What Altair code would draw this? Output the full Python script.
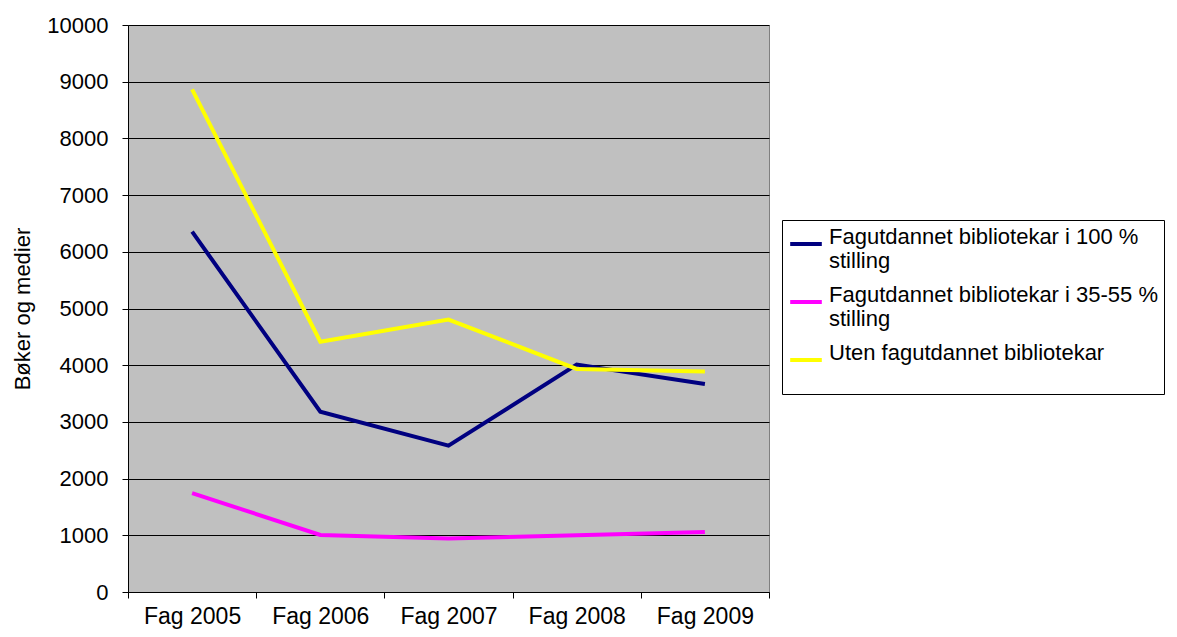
import altair as alt
import pandas as pd

categories = ["Fag 2005", "Fag 2006", "Fag 2007", "Fag 2008", "Fag 2009"]
series_names = [
    "Fagutdannet bibliotekar i 100 %|stilling",
    "Fagutdannet bibliotekar i 35-55 %|stilling",
    "Uten fagutdannet bibliotekar",
]
full_100 = [6355, 3180, 2580, 4010, 3670]
part_35_55 = [1745, 1005, 945, 1000, 1060]
uten = [8865, 4415, 4805, 3935, 3890]
colors = ["#000080", "#FF00FF", "#FFFF00"]

rows = []
for name, vals in zip(series_names, [full_100, part_35_55, uten]):
    for c, v in zip(categories, vals):
        rows.append({"kategori": c, "serie": name, "verdi": v})
df = pd.DataFrame(rows)

FONT = "Liberation Sans"

chart = (
    alt.Chart(df)
    .mark_line(strokeWidth=4)
    .encode(
        x=alt.X(
            "kategori:N",
            sort=categories,
            bandPosition=0.5,
            scale=alt.Scale(type="band", paddingInner=0, paddingOuter=0),
            axis=alt.Axis(
                title=None,
                labelAngle=0,
                tickBand="extent",
                tickSize=6,
                tickColor="black",
                domainColor="black",
                labelFontSize=23,
                labelFont=FONT,
                labelColor="black",
                labelPadding=7,
                grid=False,
            ),
        ),
        y=alt.Y(
            "verdi:Q",
            scale=alt.Scale(domain=[0, 10000], nice=False),
            axis=alt.Axis(
                title="Bøker og medier",
                values=list(range(0, 10001, 1000)),
                format="d",
                grid=True,
                gridColor="black",
                gridOpacity=1,
                gridWidth=1,
                tickSize=6,
                tickColor="black",
                domainColor="black",
                labelFontSize=22,
                labelFont=FONT,
                labelColor="black",
                labelPadding=14,
                titleFont=FONT,
                titleFontSize=22,
                titleFontWeight="normal",
                titleColor="black",
                titlePadding=12,
            ),
        ),
        color=alt.Color(
            "serie:N",
            scale=alt.Scale(domain=series_names, range=colors),
            legend=alt.Legend(
                title=None,
                orient="none",
                legendX=654,
                legendY=195,
                symbolType="stroke",
                symbolSize=1000,
                symbolStrokeWidth=4,
                labelExpr="split(indexof(datum.label, '|') < 0 ? datum.label + '| ' : datum.label, '|')",
                labelFont=FONT,
                labelFontSize=22,
                labelColor="black",
                labelLimit=500,
                labelOffset=5,
                labelBaseline="alphabetic",
                strokeColor="black",
                fillColor="white",
                padding=6,
                rowPadding=12,
            ),
        ),
    )
    .properties(
        width=641,
        height=567,
        autosize=alt.AutoSizeParams(type="none"),
        padding={"left": 120, "top": 17, "right": 400, "bottom": 37},
    )
    .configure_view(fill="#C0C0C0", stroke="#808080", strokeWidth=1)
)

chart.save("out.html", embed_options={"renderer": "svg", "actions": False})
